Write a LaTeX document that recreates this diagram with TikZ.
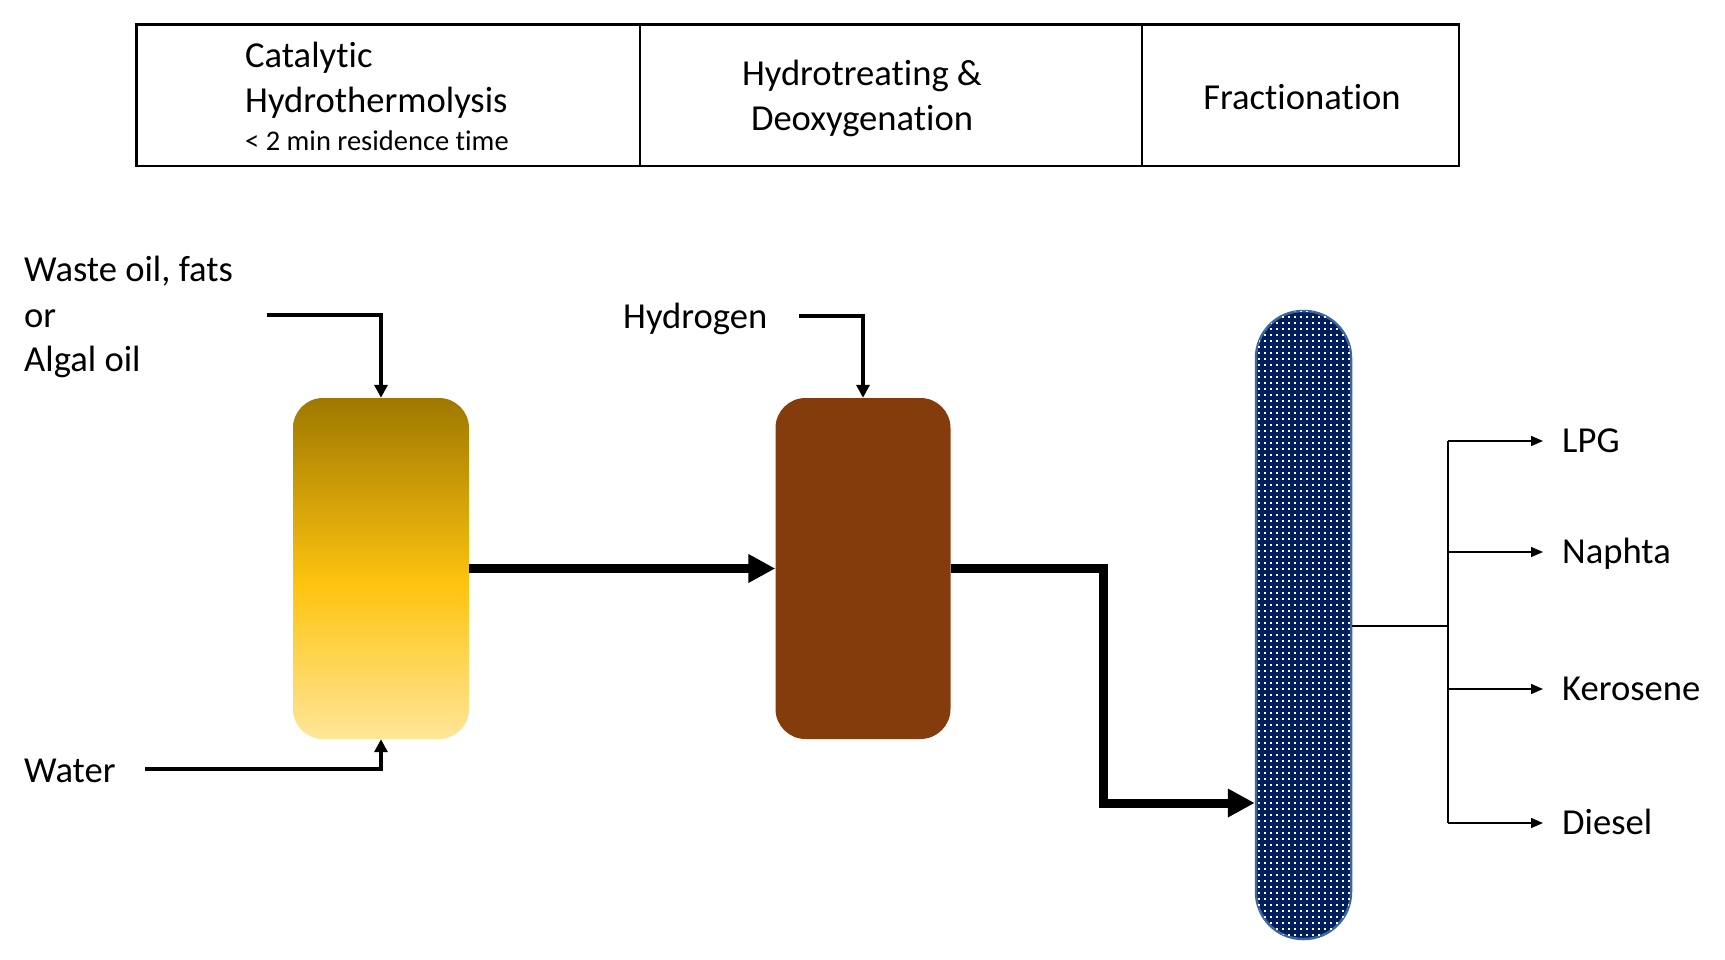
\documentclass[tikz,border=0pt]{standalone}
\usepackage{fontspec}
\setmainfont{Carlito}[Ligatures=NoCommon]
\usetikzlibrary{arrows.meta,patterns.meta}
\definecolor{goldtop}{RGB}{158,120,0}
\definecolor{goldmid}{RGB}{255,196,16}
\definecolor{goldbot}{RGB}{255,230,153}
\definecolor{brownr}{RGB}{132,60,12}
\definecolor{navyc}{RGB}{0,30,92}
\definecolor{navyb}{RGB}{60,100,160}
\pgfdeclareverticalshading{goldgrad}{100bp}{color(0bp)=(goldbot); color(25bp)=(goldbot); color(47.5bp)=(goldmid); color(75bp)=(goldtop); color(100bp)=(goldtop)}
\tikzdeclarepattern{name=coldots, type=uncolored,
  bounding box={(0pt,0pt) and (6.2pt,6.2pt)},
  tile size={(6.2pt,6.2pt)},
  code={\fill (0pt,0pt) rectangle (2.2pt,2.2pt);}}
\newcommand{\bigfont}{\fontsize{36.6pt}{44.7pt}\selectfont}
\newcommand{\smallfont}{\fontsize{28.5pt}{34pt}\selectfont}
\tikzset{
  cell/.style={draw=black, line width=2.5pt, minimum height=141.5pt, inner sep=0pt},
  txt/.style={inner sep=0pt, font=\bigfont},
  stxt/.style={inner sep=0pt, font=\smallfont},
  lbl/.style={inner ysep=0pt, inner xsep=0pt, font=\bigfont, text height=23.1pt, text depth=0pt, anchor=west},
  outlbl/.style={inner ysep=0pt, inner xsep=19pt, font=\bigfont, text height=23.1pt, text depth=0pt, anchor=west},
  reactorA/.style={shading=goldgrad, rounded corners=30pt, minimum width=176pt, minimum height=341pt, inner sep=0pt},
  reactorB/.style={fill=brownr, rounded corners=30pt, minimum width=175pt, minimum height=341pt, inner sep=0pt},
  columnc/.style={fill=navyc, draw=navyb, line width=2.5pt, rounded corners=47pt, minimum width=95pt, minimum height=628pt, inner sep=0pt,
    postaction={pattern=coldots, pattern color=white}},
  bigflow/.style={line width=9pt, line join=miter, -{Triangle[length=27pt,width=27pt]}},
  feedflow/.style={line width=4pt, line join=miter, -{Triangle[length=13pt,width=13pt]}},
  outflow/.style={line width=1.5pt, -{Triangle[length=12pt,width=10pt]}},
  thinline/.style={line width=1.5pt}
}
\begin{document}
\begin{tikzpicture}[x=1pt,y=-1pt]
\useasboundingbox (0,0) rectangle (1725,960);
% header table
\node[cell, minimum width=503.5pt] (c1) at (388.25,95.25) {};
\node[cell, minimum width=502pt] (c2) at (891,95.25) {};
\node[cell, minimum width=317pt] (c3) at (1300.5,95.25) {};
\node[txt, anchor=base west] (h1a) at (245,68) {Catalytic};
\node[txt, anchor=base west] (h1b) at (245,113) {Hydrothermolysis};
\node[stxt, anchor=base west] (h1c) at (245,151) {< 2 min residence time};
\node[txt, anchor=base] (h2a) at (862,86) {Hydrotreating \&};
\node[txt, anchor=base] (h2b) at (862,131) {Deoxygenation};
\node[txt, anchor=base] (h3a) at (1302,110) {Fractionation};
% units
\node[reactorA] (r1) at (381,568.5) {};
\node[reactorB] (r2) at (863,568.5) {};
\node[columnc] (col) at (1303.5,625) {};
% feed labels
\node[txt, anchor=base west] (w1) at (24,282) {Waste oil, fats};
\node[txt, anchor=base west] (w2) at (24,327) {or};
\node[txt, anchor=base west] (w3) at (24,371) {Algal oil};
\node[lbl] (water) at (24,771) {Water};
\node[lbl] (hyd) at (623,317) {Hydrogen};
% feed connectors
\coordinate (feedstart) at (267,315);
\coordinate (waterstart) at (145,769);
\coordinate (h2start) at (799,316);
\draw[feedflow] (feedstart) -| (r1.north);
\draw[feedflow] (waterstart) -| (r1.south);
\draw[feedflow] (h2start) -| (r2.north);
% main flows
\draw[bigflow] (r1.east) -- (r2.west);
\coordinate (bend) at (1103,803);
\draw[bigflow] (r2.east) -| (bend) -- (col.west |- bend);
% products
\node[outlbl] (lpg) at (1543,441) {LPG};
\node[outlbl] (nap) at (1543,552) {Naphta};
\node[outlbl] (ker) at (1543,689) {Kerosene};
\node[outlbl] (die) at (1543,823) {Diesel};
\coordinate (split) at (1448,626);
\draw[thinline] (col.east |- split) -- (split);
\draw[thinline] (split |- lpg) -- (split |- die);
\draw[outflow] (split |- lpg) -- (lpg.west);
\draw[outflow] (split |- nap) -- (nap.west);
\draw[outflow] (split |- ker) -- (ker.west);
\draw[outflow] (split |- die) -- (die.west);
\end{tikzpicture}
\end{document}
